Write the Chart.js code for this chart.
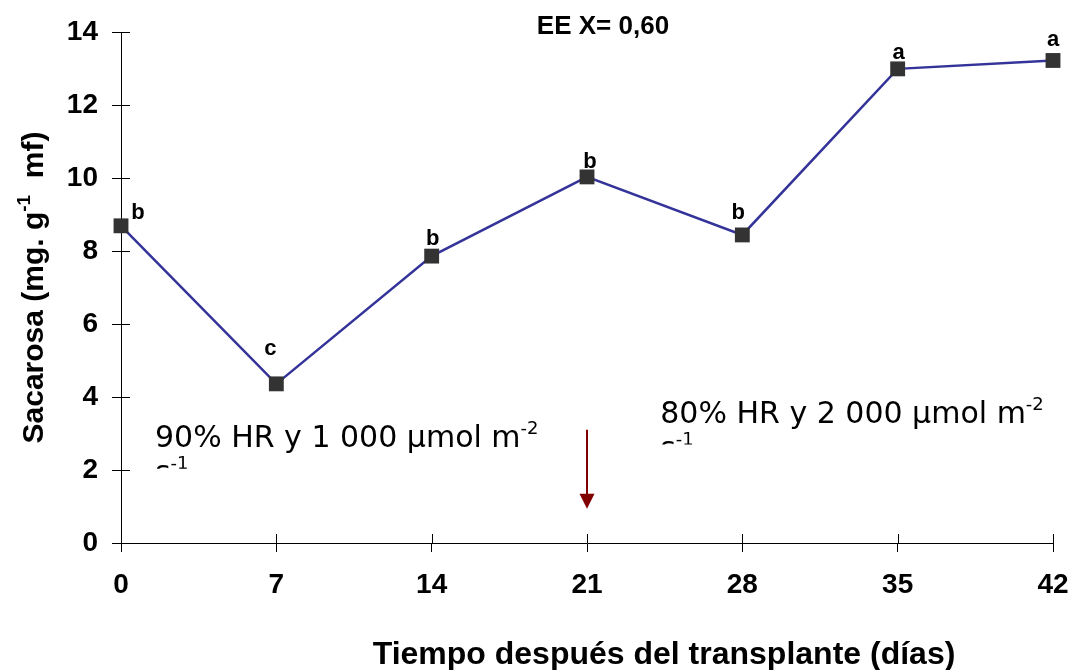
<!DOCTYPE html>
<html>
<head>
<meta charset="utf-8">
<script src="https://cdn.jsdelivr.net/npm/chart.js@4.4.0/dist/chart.umd.min.js"></script>
<style>
    html, body { margin: 0; padding: 0; background: #fff; }
</style>
</head>
<body>
<canvas id="sacarosaChart" width="1075" height="670"></canvas>
<script>
// Sacarosa vs dias despues del transplante
const dias = [0, 7, 14, 21, 28, 35, 42];
const sacarosa = [8.69, 4.36, 7.86, 10.03, 8.44, 12.99, 13.22];
const letras = ['b', 'c', 'b', 'b', 'b', 'a', 'a'];
const xTicks = [0, 7, 14, 21, 28, 35, 42];
const yTicks = [0, 2, 4, 6, 8, 10, 12, 14];
const diaCambio = 21;

const FONT = "'Liberation Sans', Arial, sans-serif";

// small nudges for the significance letters (px)
const letraDx = [17, -6, 1, 3, -4, 1, 0];
const letraDy = [-7, -29, -11, -9, -16, -10, -14];

function textSup(ctx, x, y, parts, size, supSize) {
    // parts: [text, sup, text, ...]
    let cx = x;
    parts.forEach((p, i) => {
        const isSup = i % 2 === 1;
        ctx.font = (isSup ? supSize : size) + 'px ' + ctx._fam;
        ctx.fillText(p, cx, isSup ? y - size * 0.42 : y);
        cx += ctx.measureText(p).width;
    });
}

const extras = {
    id: 'extras',
    afterDraw(chart) {
        const ctx = chart.ctx;
        const xs = chart.scales.x, ys = chart.scales.y;
        const area = chart.chartArea;
        ctx.save();

        // inner half of the cross tick marks
        ctx.strokeStyle = '#000';
        ctx.lineWidth = 1;
        ctx.beginPath();
        yTicks.forEach(v => {
            const py = Math.round(ys.getPixelForValue(v)) + 0.5;
            ctx.moveTo(area.left, py);
            ctx.lineTo(area.left + 9, py);
        });
        xTicks.forEach(v => {
            const px = Math.round(xs.getPixelForValue(v)) + 0.5;
            ctx.moveTo(px, area.bottom);
            ctx.lineTo(px, area.bottom - 9);
        });
        ctx.stroke();

        // significance letters
        ctx.fillStyle = '#000';
        ctx.font = 'bold 22px ' + FONT;
        ctx.textAlign = 'center';
        ctx.textBaseline = 'alphabetic';
        letras.forEach((l, i) => {
            const px = xs.getPixelForValue(dias[i]);
            const py = ys.getPixelForValue(sacarosa[i]);
            ctx.fillText(l, px + letraDx[i], py + letraDy[i]);
        });

        // arrow at the change of conditions
        const ax = xs.getPixelForValue(diaCambio);
        const aTop = ys.getPixelForValue(3.1);
        const aTip = ys.getPixelForValue(0.94);
        ctx.strokeStyle = '#800000';
        ctx.fillStyle = '#800000';
        ctx.lineWidth = 2;
        ctx.beginPath();
        ctx.moveTo(ax, aTop);
        ctx.lineTo(ax, aTip - 12);
        ctx.stroke();
        ctx.beginPath();
        ctx.moveTo(ax - 7.5, aTip - 15);
        ctx.lineTo(ax + 7.5, aTip - 15);
        ctx.lineTo(ax, aTip);
        ctx.closePath();
        ctx.fill();

        // condition notes (second line is cut off, like in the original)
        ctx.fillStyle = '#000';
        ctx.textAlign = 'left';
        ctx._fam = "'DejaVu Sans', Verdana, sans-serif";
        const notas = [
            { txt: ['90% HR y 1 000 \u00b5mol m', '-2'], x: xs.getPixelForValue(1.53), y: ys.getPixelForValue(2.64) },
            { txt: ['80% HR y 2 000 \u00b5mol m', '-2'], x: xs.getPixelForValue(24.3), y: ys.getPixelForValue(3.3) }
        ];
        notas.forEach(n => {
            textSup(ctx, n.x, n.y, n.txt, 30, 18);
            ctx.save();
            ctx.beginPath();
            ctx.rect(0, 0, chart.width, n.y + 22);
            ctx.clip();
            textSup(ctx, n.x, n.y + 35, ['s', '-1'], 30, 18);
            ctx.restore();
        });

        // title
        ctx.textAlign = 'center';
        ctx.textBaseline = 'middle';
        ctx.font = 'bold 26px ' + FONT;
        ctx.fillText('EE X= 0,60', 603, 27);

        // x axis title
        ctx.font = 'bold 32px ' + FONT;
        ctx.fillText('Tiempo despu\u00e9s del transplante (d\u00edas)', 664, 655);

        // y axis title with superscript
        ctx.translate(43, (area.top + area.bottom) / 2);
        ctx.rotate(-Math.PI / 2);
        ctx.textAlign = 'left';
        ctx.textBaseline = 'alphabetic';
        const partes = ['Sacarosa (mg. g', '-1', '  mf)'];
        let total = 0;
        partes.forEach((p, i) => {
            ctx.font = 'bold ' + (i % 2 ? 19 : 30) + 'px ' + FONT;
            total += ctx.measureText(p).width;
        });
        let cx = -total / 2;
        partes.forEach((p, i) => {
            ctx.font = 'bold ' + (i % 2 ? 19 : 30) + 'px ' + FONT;
            ctx.fillText(p, cx, i % 2 ? -13 : 0);
            cx += ctx.measureText(p).width;
        });

        ctx.restore();
    }
};

const ctx = document.getElementById('sacarosaChart').getContext('2d');
new Chart(ctx, {
    type: 'line',
    data: {
        datasets: [{
            label: 'Sacarosa',
            data: dias.map((d, i) => ({ x: d, y: sacarosa[i] })),
            borderColor: '#333399',
            borderWidth: 2.5,
            pointStyle: 'rect',
            pointRadius: 10.5,
            pointBackgroundColor: '#333333',
            pointBorderColor: '#333333',
            pointBorderWidth: 0,
            tension: 0,
            clip: false
        }]
    },
    options: {
        responsive: false,
        animation: false,
        devicePixelRatio: 1,
        layout: { padding: { left: 0, top: 32, right: 22, bottom: 0 } },
        plugins: {
            legend: { display: false },
            title: { display: false },
            tooltip: { enabled: false }
        },
        scales: {
            x: {
                type: 'linear',
                min: 0,
                max: 42,
                afterBuildTicks: s => { s.ticks = xTicks.map(v => ({ value: v })); },
                afterFit: s => { s.height = 127; s.paddingLeft = 0; s.paddingRight = 0; },
                border: { color: '#000', width: 1 },
                grid: { drawOnChartArea: false, color: '#000', tickLength: 9 },
                ticks: {
                    color: '#000',
                    font: { family: FONT, size: 28, weight: 'bold' },
                    padding: 16,
                    maxRotation: 0
                }
            },
            y: {
                min: 0,
                max: 14,
                afterBuildTicks: s => { s.ticks = yTicks.map(v => ({ value: v })); },
                afterFit: s => { s.width = 121; s.paddingTop = 0; s.paddingBottom = 0; },
                border: { color: '#000', width: 1 },
                grid: { drawOnChartArea: false, color: '#000', tickLength: 9 },
                ticks: {
                    color: '#000',
                    font: { family: FONT, size: 28, weight: 'bold' },
                    padding: 14
                }
            }
        }
    },
    plugins: [extras]
});
</script>
</body>
</html>
